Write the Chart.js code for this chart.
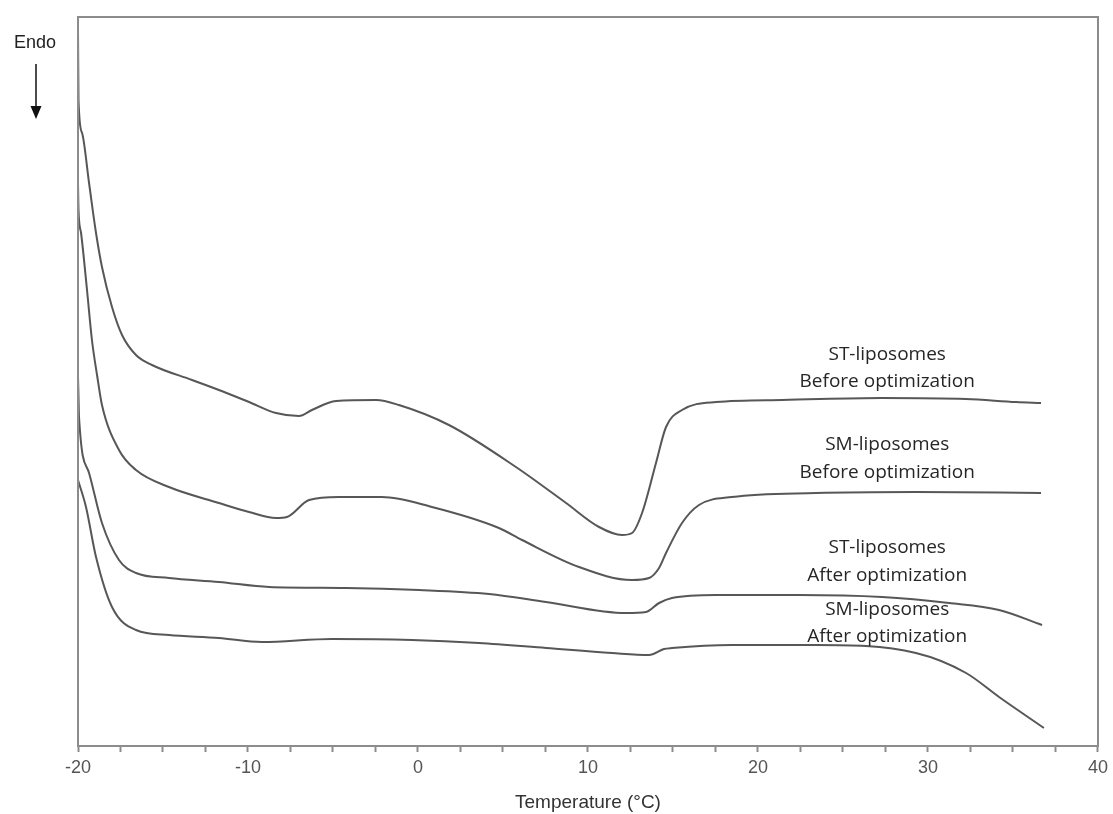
<!DOCTYPE html>
<html>
<head>
<meta charset="utf-8">
<script src="https://cdn.jsdelivr.net/npm/chart.js@4/dist/chart.umd.min.js"></script>
<style>
  html, body { margin: 0; padding: 0; background: #fff; }
  #wrap { width: 1113px; height: 814px; position: relative; }
</style>
</head>
<body>
<div id="wrap"><canvas id="dscChart" width="1113" height="814"></canvas></div>
<script>
// DSC thermograms, heat flow in arbitrary units (endo down)
const stBeforeT = [-20, -19.97, -19.76, -19.35, -18.94, -18.59, -18.0, -17.41, -16.59, -15.65, -13.29, -11.71, -9.94, -8.35, -7.0, -6.24, -4.82, -2.47, -1.12, 1.82, 5.76, 8.71, 10.65, 12.0, 12.59, 13.18, 14.0, 14.59, 15.53, 17.53, 21.41, 27.29, 32.24, 35.18, 36.65];
const stBeforeY = [718, 648, 615, 565, 515, 481, 441, 413, 393, 383, 368, 358, 346, 335, 332, 338, 347, 348, 343, 323, 281, 245, 221, 213, 215, 235, 285, 321, 338, 346, 348, 350, 349, 346, 345];

const smBeforeT = [-20, -19.97, -19.82, -19.47, -19.18, -18.88, -18.59, -17.59, -16.59, -14.65, -11.71, -9.94, -8.35, -7.71, -6.41, -4.65, -2.12, 0.82, 4.76, 6.12, 9.47, 12.59, 13.59, 14.18, 14.59, 15.53, 16.53, 18.47, 23.41, 29.29, 36.65];
const smBeforeY = [565, 538, 515, 458, 408, 373, 343, 298, 278, 261, 245, 236, 230, 231, 248, 251, 251, 241, 220, 208, 181, 168, 170, 180, 195, 225, 243, 251, 255, 256, 255];

const stAfterT = [-20, -19.97, -19.94, -19.35, -18.59, -17.59, -16.59, -14.65, -11.71, -8.76, -4.24, 0.06, 4.18, 7.53, 12.24, 13.41, 14.18, 14.94, 17.53, 22.41, 27.29, 31.24, 34.18, 36.71];
const stAfterY = [371, 351, 331, 275, 225, 188, 175, 170, 166, 161, 160, 158, 154, 146, 135, 136, 145, 150, 153, 153, 151, 145, 138, 123];

const smAfterT = [-20, -19.53, -18.94, -18.0, -16.59, -14.65, -11.71, -9.18, -5.06, -0.35, 3.59, 7.53, 11.41, 13.59, 14.47, 14.94, 18.47, 23.41, 29.29, 32.24, 34.18, 36.82];
const smAfterY = [268, 241, 191, 141, 118, 113, 110, 106, 109, 108, 105, 100, 95, 93, 99, 100, 103, 103, 95, 75, 51, 20];

const seriesNames = ['ST-liposomes Before optimization', 'SM-liposomes Before optimization', 'ST-liposomes After optimization', 'SM-liposomes After optimization'];
const curveLabels = [
  ['ST-liposomes', 'Before optimization'],
  ['SM-liposomes', 'Before optimization'],
  ['ST-liposomes', 'After optimization'],
  ['SM-liposomes', 'After optimization']
];
const labelT = 27.6;
const labelY = [[393, 366], [303, 275], [200, 172], [138, 111]];
const xTicks = [-20, -10, 0, 10, 20, 30, 40];

function toPoints(t, y) {
  return t.map((v, i) => ({ x: v, y: y[i] }));
}

const allSeries = [
  [stBeforeT, stBeforeY],
  [smBeforeT, smBeforeY],
  [stAfterT, stAfterY],
  [smAfterT, smAfterY]
];

// frame, curve labels and the Endo marker
const extras = {
  id: 'extras',
  afterDraw(chart) {
    const { ctx, chartArea: a, scales } = chart;
    ctx.save();
    ctx.strokeStyle = '#8c8c8c';
    ctx.lineWidth = 2;
    ctx.strokeRect(a.left, a.top, a.right - a.left, a.bottom - a.top);

    ctx.fillStyle = '#262626';
    ctx.font = '19px "Open Sans"';
    ctx.textAlign = 'center';
    ctx.textBaseline = 'middle';
    curveLabels.forEach((lines, i) => {
      lines.forEach((txt, j) => {
        ctx.fillText(txt, scales.x.getPixelForValue(labelT), scales.y.getPixelForValue(labelY[i][j]));
      });
    });

    ctx.fillStyle = '#222';
    ctx.font = '18px "Liberation Sans"';
    ctx.fillText('Endo', 35, 43);
    ctx.strokeStyle = '#111';
    ctx.lineWidth = 1.5;
    ctx.beginPath();
    ctx.moveTo(36, 64);
    ctx.lineTo(36, 108);
    ctx.stroke();
    ctx.fillStyle = '#111';
    ctx.beginPath();
    ctx.moveTo(30.5, 106);
    ctx.lineTo(41.5, 106);
    ctx.lineTo(36, 119);
    ctx.closePath();
    ctx.fill();
    ctx.restore();
  }
};

new Chart(document.getElementById('dscChart'), {
  type: 'line',
  data: {
    datasets: allSeries.map((s, i) => ({
      label: seriesNames[i],
      data: toPoints(s[0], s[1]),
      borderColor: '#575757',
      borderWidth: 2,
      pointRadius: 0,
      cubicInterpolationMode: 'monotone',
      fill: false
    }))
  },
  options: {
    responsive: false,
    animation: false,
    layout: { padding: { left: 78, right: 15, top: 17, bottom: 0 } },
    plugins: { legend: { display: false }, tooltip: { enabled: false } },
    scales: {
      x: {
        type: 'linear',
        min: -20,
        max: 40,
        afterFit: s => { s.height = 68; },
        afterBuildTicks: s => {
          const t = [];
          for (let v = -20; v <= 40; v += 2.5) t.push({ value: v });
          s.ticks = t;
        },
        ticks: {
          color: '#555',
          font: { family: 'Liberation Sans', size: 18 },
          padding: 5,
          autoSkip: false,
          maxRotation: 0,
          callback: v => (xTicks.includes(v) ? String(v) : '')
        },
        grid: {
          drawOnChartArea: false,
          drawTicks: true,
          tickLength: 6,
          tickColor: '#8c8c8c',
          tickWidth: 2
        },
        border: { color: '#8c8c8c', width: 2 },
        title: {
          display: true,
          text: 'Temperature (°C)',
          color: '#333',
          font: { family: 'Liberation Sans', size: 19 },
          padding: { top: 4, bottom: 0 }
        }
      },
      y: {
        display: false,
        min: 2,
        max: 731
      }
    }
  },
  plugins: [extras]
});
</script>
</body>
</html>
